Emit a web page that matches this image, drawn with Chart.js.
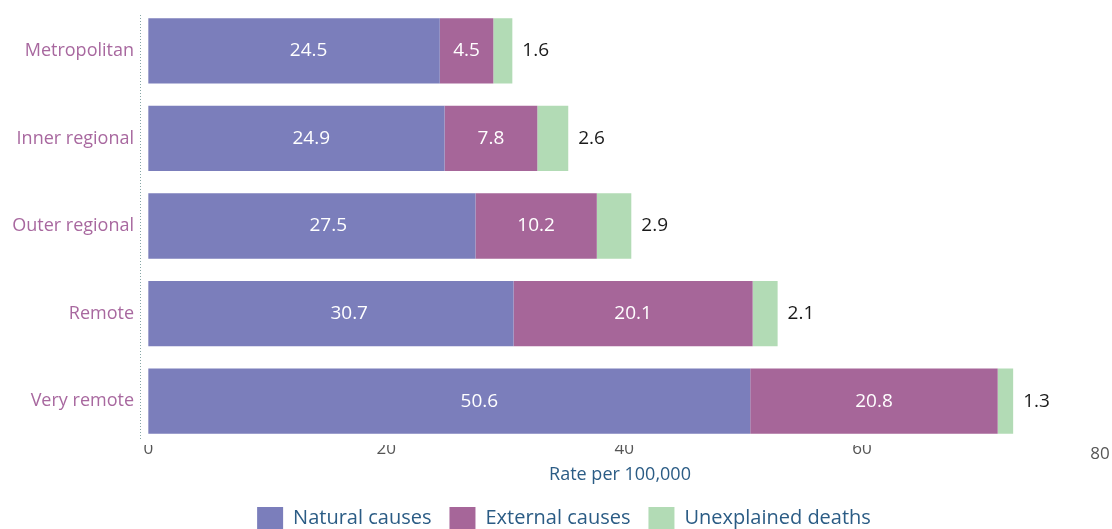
<!DOCTYPE html>
<html>
<head>
<meta charset="utf-8">
<script src="https://cdn.jsdelivr.net/npm/chart.js@4.4.0/dist/chart.umd.min.js"></script>
<style>
  html, body { margin: 0; padding: 0; background: #fff; overflow: hidden; }
  #wrap { position: relative; width: 1112px; height: 539px; }
</style>
</head>
<body>
<div id="wrap"><canvas id="myChart"></canvas></div>
<script>
"use strict";

// Remoteness areas and death rates per 100,000
const areas = ["Metropolitan", "Inner regional", "Outer regional", "Remote", "Very remote"];
const natural = [24.5, 24.9, 27.5, 30.7, 50.6];
const external = [4.5, 7.8, 10.2, 20.1, 20.8];
const unexplained = [1.6, 2.6, 2.9, 2.1, 1.3];
const xTicks = [0, 20, 40, 60, 80];

const FONT = "'Open Sans', sans-serif";

Chart.defaults.font.family = FONT;

// Value labels: inside for the first two series, after the bar for the last
const barLabels = {
  id: "barLabels",
  afterDatasetsDraw(chart) {
    const ctx = chart.ctx;
    ctx.save();
    ctx.font = "19px " + FONT;
    ctx.textBaseline = "middle";
    chart.data.datasets.forEach((ds, i) => {
      const meta = chart.getDatasetMeta(i);
      meta.data.forEach((bar, j) => {
        const text = ds.data[j].toFixed(1);
        if (i < 2) {
          // first segment label sits slightly past the middle
          const t = i === 0 ? 0.55 : 0.5;
          ctx.fillStyle = "#ffffff";
          ctx.textAlign = "center";
          ctx.fillText(text, bar.base + (bar.x - bar.base) * t, bar.y);
        } else {
          ctx.fillStyle = "#1a1a1a";
          ctx.textAlign = "left";
          ctx.fillText(text, bar.x + 10, bar.y);
        }
      });
    });
    ctx.restore();
  },
};

// Dotted line along the category axis
const dottedAxis = {
  id: "dottedAxis",
  beforeDatasetsDraw(chart) {
    const { ctx, chartArea } = chart;
    const x = Math.round(chartArea.left) + 0.5;
    ctx.save();
    ctx.strokeStyle = "#86a6a6";
    ctx.lineWidth = 1;
    ctx.setLineDash([1, 2]);
    ctx.beginPath();
    ctx.moveTo(x, chartArea.top + 8);
    ctx.lineTo(x, chartArea.bottom - 4);
    ctx.stroke();
    ctx.restore();
  },
};

// The last x tick sits a little lower than the rest
const lastTick = {
  id: "lastTick",
  afterDraw(chart) {
    const x = chart.scales.x;
    const ctx = chart.ctx;
    ctx.save();
    ctx.font = "17px " + FONT;
    ctx.fillStyle = "#555555";
    ctx.textAlign = "center";
    ctx.textBaseline = "middle";
    ctx.fillText("80", x.getPixelForValue(80), x.top + 9);
    ctx.restore();
  },
};

// Nudge the legend row to the right
const legendShift = {
  id: "legendShift",
  afterLayout(chart) {
    if (chart.legend) {
      chart.legend.left += 14;
      chart.legend.right += 14;
    }
  },
};

const ctx = document.getElementById("myChart").getContext("2d");

const myChart = new Chart(ctx, {
  type: "bar",
  data: {
    labels: areas,
    datasets: [
      { label: "Natural causes", data: natural, backgroundColor: "#7b7ebb" },
      { label: "External causes", data: external, backgroundColor: "#a66699" },
      { label: "Unexplained deaths", data: unexplained, backgroundColor: "#b2dbb5" },
    ],
  },
  plugins: [dottedAxis, barLabels, lastTick, legendShift],
  options: {
    indexAxis: "y",
    responsive: true,
    maintainAspectRatio: false,
    animation: false,
    layout: { padding: { top: 7, right: 12, left: 0, bottom: 0 } },
    datasets: {
      bar: {
        categoryPercentage: 0.745,
        barPercentage: 1,
        borderWidth: 0,
      },
    },
    scales: {
      x: {
        stacked: true,
        min: -0.7,
        max: 80,
        afterBuildTicks: (axis) => {
          axis.ticks = xTicks.map((v) => ({ value: v }));
        },
        afterFit: (scale) => {
          scale.height = 44;
        },
        grid: { display: false, drawTicks: false },
        border: { display: false },
        ticks: {
          color: "#555555",
          font: { size: 17 },
          padding: -6,
          maxRotation: 0,
          callback: (v) => (v === 80 ? "" : v),
        },
        title: {
          display: true,
          text: "Rate per 100,000",
          color: "#2b5c85",
          font: { size: 18 },
          padding: { top: 0, bottom: 3 },
        },
      },
      y: {
        stacked: true,
        afterFit: (scale) => {
          scale.width = 140;
          scale.paddingTop = 0;
          scale.paddingBottom = 0;
        },
        grid: { display: false, drawTicks: false },
        border: { display: false },
        ticks: {
          color: "#a8689f",
          font: { size: 18 },
          padding: 6,
        },
      },
    },
    plugins: {
      legend: {
        position: "bottom",
        labels: {
          color: "#2b5c85",
          font: { size: 20 },
          boxWidth: 26,
          boxHeight: 22,
          padding: 18,
        },
      },
      tooltip: { enabled: false },
    },
  },
});
</script>
</body>
</html>
